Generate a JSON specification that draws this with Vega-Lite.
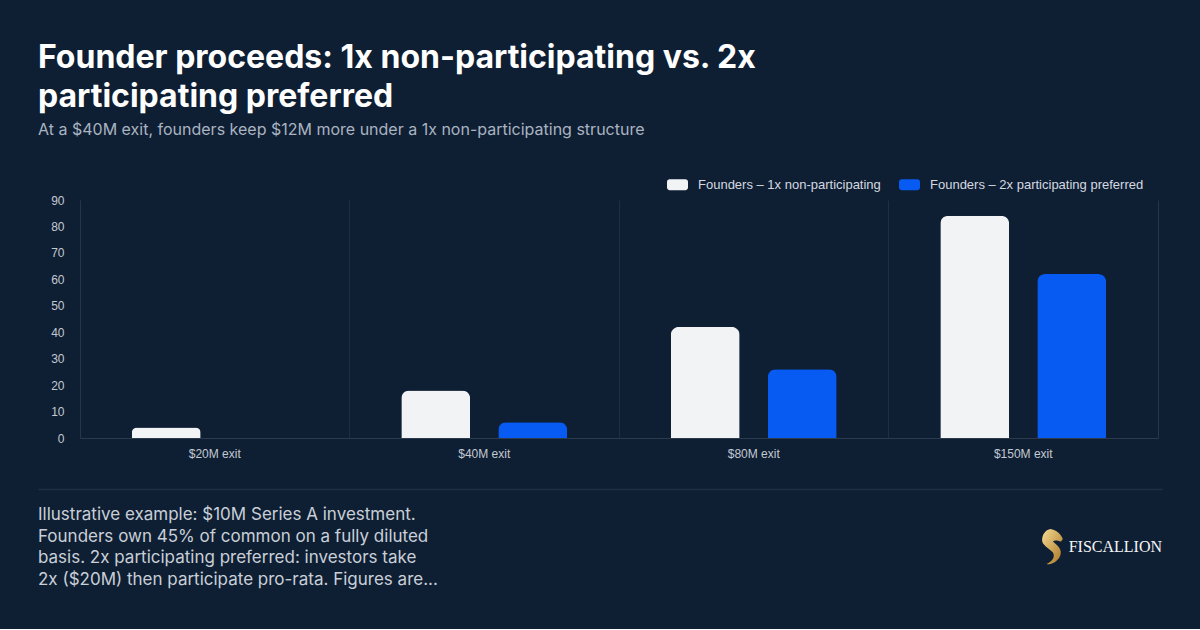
{
  "$schema": "https://vega.github.io/schema/vega-lite/v6.json",
  "background": "#0f1f33",
  "padding": {"left": 38, "right": 38, "top": 42, "bottom": 24},
  "title": {
    "text": ["Founder proceeds: 1x non-participating vs. 2x", "participating preferred"],
    "subtitle": "At a $40M exit, founders keep $12M more under a 1x non-participating structure",
    "anchor": "start",
    "frame": "bounds",
    "font": "Inter",
    "fontSize": 32,
    "fontWeight": 700,
    "color": "#ffffff",
    "lineHeight": 39,
    "subtitleFont": "Inter",
    "subtitleFontSize": 16,
    "subtitleColor": "#a9b3c1",
    "subtitlePadding": 8,
    "offset": 35
  },
  "datasets": {
    "proceeds": [
      {"exit": "$20M exit", "structure": "Founders – 1x non-participating", "proceeds": 4},
      {"exit": "$20M exit", "structure": "Founders – 2x participating preferred", "proceeds": 0},
      {"exit": "$40M exit", "structure": "Founders – 1x non-participating", "proceeds": 18},
      {"exit": "$40M exit", "structure": "Founders – 2x participating preferred", "proceeds": 6},
      {"exit": "$80M exit", "structure": "Founders – 1x non-participating", "proceeds": 42},
      {"exit": "$80M exit", "structure": "Founders – 2x participating preferred", "proceeds": 26},
      {"exit": "$150M exit", "structure": "Founders – 1x non-participating", "proceeds": 84},
      {"exit": "$150M exit", "structure": "Founders – 2x participating preferred", "proceeds": 62}
    ],
    "note": [
      {"anchor": "start", "note": "Illustrative example: $10M Series A investment.\nFounders own 45% of common on a fully diluted\nbasis. 2x participating preferred: investors take\n2x ($20M) then participate pro-rata. Figures are..."}
    ],
    "brand": [
      {"anchor": "end", "brand": "FISCALLION"}
    ]
  },
  "spacing": 30,
  "resolve": {"scale": {"x": "independent", "y": "independent"}},
  "vconcat": [
    {
      "width": 1078,
      "height": 238,
      "data": {"name": "proceeds"},
      "resolve": {"axis": {"y": "independent"}},
      "layer": [
        {
          "mark": {"type": "bar", "cornerRadiusEnd": 8},
          "encoding": {
            "x": {
              "field": "exit",
              "type": "nominal",
              "sort": ["$20M exit", "$40M exit", "$80M exit", "$150M exit"],
              "scale": {"paddingInner": 0, "paddingOuter": 0},
              "axis": {
                "title": null,
                "labelAngle": 0,
                "labelFont": "Liberation Sans",
                "labelFontSize": 12,
                "labelColor": "#c3c9d2",
                "labelPadding": 10,
                "ticks": false,
                "tickSize": 0,
                "domain": true,
                "domainColor": "#2c3a4e",
                "domainWidth": 1,
                "grid": true,
                "bandPosition": 0,
                "gridColor": "#1f2e42",
                "gridWidth": 1
              }
            },
            "xOffset": {
              "field": "structure",
              "type": "nominal",
              "sort": ["Founders – 1x non-participating", "Founders – 2x participating preferred"],
              "scale": {"paddingInner": 0.29, "paddingOuter": 0.534}
            },
            "y": {
              "field": "proceeds",
              "type": "quantitative",
              "scale": {"domain": [0, 90], "nice": false},
              "axis": {
                "title": null,
                "values": [0, 10, 20, 30, 40, 50, 60, 70, 80, 90],
                "labelFont": "Liberation Sans",
                "labelFontSize": 12,
                "labelColor": "#c3c9d2",
                "labelPadding": 16,
                "ticks": false,
                "tickSize": 0,
                "grid": false,
                "domain": true,
                "domainColor": "#26354a"
              }
            },
            "color": {
              "field": "structure",
              "type": "nominal",
              "scale": {
                "domain": ["Founders – 1x non-participating", "Founders – 2x participating preferred"],
                "range": ["#f2f3f5", "#075bf2"]
              },
              "legend": {
                "title": null,
                "orient": "none",
                "legendX": 587,
                "legendY": -26,
                "direction": "horizontal",
                "symbolType": "M-0.75,-0.52 H0.75 A0.25,0.25 0 0 1 1,-0.27 V0.27 A0.25,0.25 0 0 1 0.75,0.52 H-0.75 A0.25,0.25 0 0 1 -1,0.27 V-0.27 A0.25,0.25 0 0 1 -0.75,-0.52 Z",
                "symbolSize": 441,
                "symbolStrokeWidth": 0,
                "symbolOpacity": 1,
                "labelFont": "Liberation Sans",
                "labelFontSize": 13,
                "labelColor": "#d4d9e0",
                "labelLimit": 400,
                "labelOffset": 10,
                "columnPadding": 18,
                "padding": 0
              }
            }
          }
        },
        {
          "mark": {"type": "rule", "opacity": 0},
          "encoding": {
            "y": {
              "field": "proceeds",
              "type": "quantitative",
              "axis": {
                "orient": "right",
                "title": null,
                "labels": false,
                "ticks": false,
                "grid": false,
                "domain": true,
                "domainColor": "#26354a"
              }
            }
          }
        }
      ]
    },
    {
      "width": 1082,
      "height": 116,
      "layer": [
        {
          "data": {"name": "note"},
          "mark": {
            "type": "text",
            "align": "left",
            "baseline": "middle",
            "dy": -32,
            "font": "Inter",
            "fontSize": 17,
            "lineHeight": 21.5,
            "lineBreak": "\n",
            "color": "#c9cfd8"
          },
          "encoding": {
            "x": {
              "field": "anchor",
              "type": "ordinal",
              "scale": {"type": "point", "domain": ["start", "end"], "range": [-42, 1082], "padding": 0},
              "axis": {
                "orient": "top",
                "title": null,
                "labels": false,
                "ticks": false,
                "grid": false,
                "domain": true,
                "domainColor": "#1f3045",
                "domainWidth": 1.5
              }
            },
            "text": {"field": "note"}
          }
        },
        {
          "data": {"name": "brand"},
          "mark": {
            "type": "point",
            "filled": true,
            "opacity": 1,
            "size": 1296,
            "shape": "M-6.21,-1 C-5.86,-0.95 -5.61,-0.7 -5.51,-0.45 L-5.61,-0.3 C-5.81,-0.35 -5.96,-0.4 -6.06,-0.3 C-5.81,-0.1 -5.51,0.15 -5.66,0.5 C-5.81,0.85 -6.21,1 -6.41,0.95 C-6.11,0.8 -5.91,0.55 -6.06,0.3 C-6.26,0.05 -6.71,-0.1 -6.66,-0.45 C-6.61,-0.8 -6.41,-0.95 -6.21,-1 Z",
            "fill": {
              "gradient": "linear",
              "x1": 0, "y1": 0, "x2": 1, "y2": 1,
              "stops": [
                {"offset": 0, "color": "#f6dc93"},
                {"offset": 1, "color": "#a87424"}
              ]
            },
            "strokeWidth": 0
          },
          "encoding": {
            "x": {"field": "anchor", "type": "ordinal"}
          }
        },
        {
          "data": {"name": "brand"},
          "mark": {
            "type": "text",
            "align": "right",
            "baseline": "middle",
            "font": "Liberation Serif",
            "fontSize": 16,
            "color": "#f4f5f7"
          },
          "encoding": {
            "x": {"field": "anchor", "type": "ordinal"},
            "text": {"field": "brand"}
          }
        }
      ]
    }
  ],
  "config": {
    "view": {"stroke": null},
    "axis": {"labelFont": "Liberation Sans"}
  }
}
